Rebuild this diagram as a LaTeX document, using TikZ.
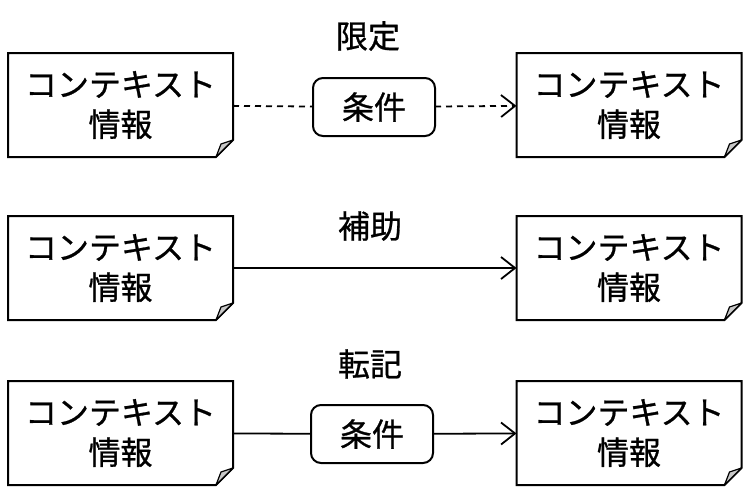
\documentclass[tikz,border=0pt]{standalone}
\usepackage{fontspec}
\newfontfamily\jp[FakeBold=0.8]{Noto Sans CJK JP}
\usetikzlibrary{arrows.meta,calc}
\definecolor{foldgray}{HTML}{C8C8C8}
\tikzset{>={Straight Barb[length=14pt,width=22pt]},
  every node/.style={font=\jp\fontsize{32}{40}\selectfont},
  note/.style={minimum width=225pt,minimum height=104pt,align=center,inner sep=0pt,outer sep=0pt},
  cond/.style={draw,line width=2pt,rounded corners=10pt,minimum width=122pt,minimum height=58pt,inner sep=0pt,outer sep=0pt},
  link/.style={draw,line width=1.8pt},
  fold/.style={fill=foldgray,draw,line width=1.2pt,line join=round}}

\begin{document}
\begin{tikzpicture}[x=1pt,y=-1pt,line width=2pt]
\useasboundingbox (0,0) rectangle (748,490);
\node[note] (a1) at (120.5,105) {コンテキスト\\情報};\node[note] (b1) at (629,105) {コンテキスト\\情報};
\node[note] (a2) at (120.5,268) {コンテキスト\\情報};\node[note] (b2) at (629,268) {コンテキスト\\情報};
\node[note] (a3) at (120.5,433) {コンテキスト\\情報};\node[note] (b3) at (629,433) {コンテキスト\\情報};
\node[cond] (c1) at (374,107) {条件};
\node[cond] (c3) at (372,434) {条件};
\node (l1) at (368,36) {限定};
\node (l2) at (370,226) {補助};
\node (l3) at (370,364) {転記};
% note outlines with a turned-down corner
\foreach \n in {a1,b1,a2,b2,a3,b3}{
  \draw[line join=miter] (\n.north west) -- (\n.north east) -- ($(\n.south east)+(0,-17)$)
    -- ($(\n.south east)+(-17,0)$) -- (\n.south west) -- cycle;
  \filldraw[fold] ($(\n.south east)+(0,-17)$) .. controls ($(\n.south east)+(-6,-15)$) .. ($(\n.south east)+(-12,-13)$)
    -- ($(\n.south east)+(-17,0)$) -- cycle;}
\draw[link,dash pattern=on 6pt off 5pt] (a1)--(c1);
\draw[link,dash pattern=on 6pt off 5pt,->] (c1)--(b1);
\draw[link,->] (a2)--(b2);
\draw[link] (a3)--(c3);
\draw[link,->] (c3)--(b3);
\end{tikzpicture}
\end{document}
